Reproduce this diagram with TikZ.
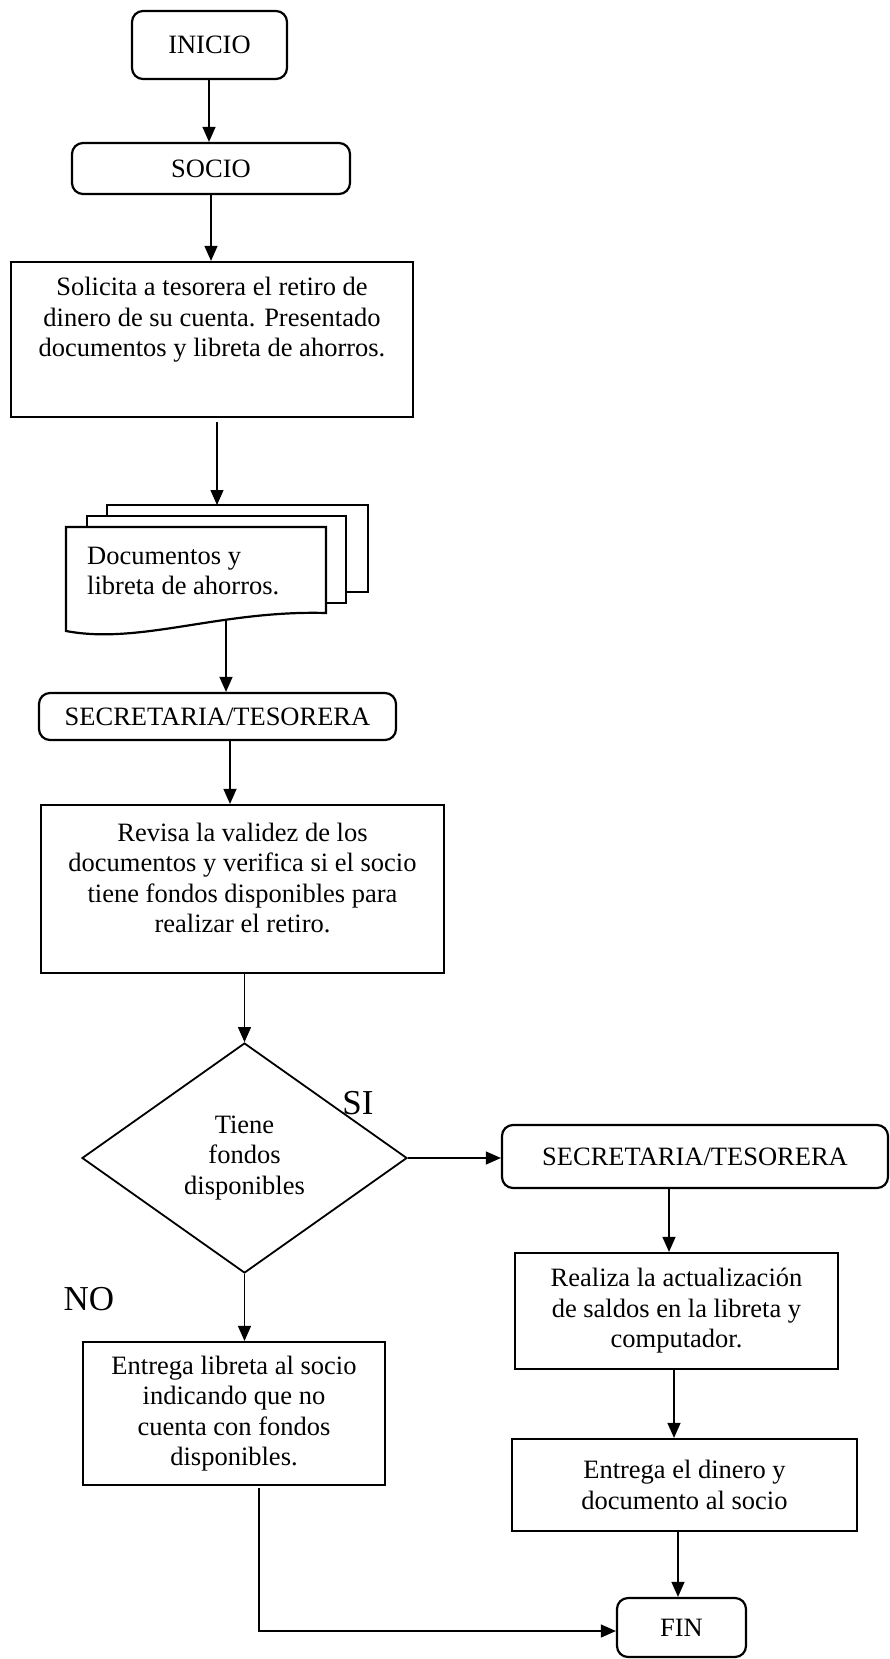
\documentclass[tikz,border=0pt]{standalone}
\usepackage{fontspec}
\setmainfont{Liberation Serif}
\usetikzlibrary{arrows.meta,shapes.geometric}
\begin{document}
\begin{tikzpicture}[x=1pt,y=-1pt,
  every node/.style={font=\fontsize{26.5}{30.5}\selectfont},
  proc/.style={draw,line width=2.2pt,inner sep=0pt,align=center},
  term/.style={draw,line width=2.2pt,rounded corners=11pt,inner sep=0pt,align=center},
  lbl/.style={align=center,inner sep=0pt},
  arr/.style={line width=1.2pt,-{Triangle[length=15pt,width=13pt]}},
  ln/.style={line width=1.2pt},
  page/.style={draw,line width=2.2pt,fill=white,line join=miter},
  big/.style={font=\fontsize{35}{40}\selectfont,inner sep=0pt}]
\useasboundingbox (0,0) rectangle (890,1659);

% main column
\node[term, minimum width=155pt, minimum height=68pt] (inicio) at (209.5,45) {INICIO};
\node[term, minimum width=278pt, minimum height=51pt] (socio) at (211,168.5) {SOCIO};
\node[proc, minimum width=402pt, minimum height=155pt] (sol) at (212,339.5) {};
\node[lbl] (solT) at (212,320) {Solicita a tesorera el retiro de\\dinero de su cuenta. Presentado\\documentos y libreta de ahorros.};

% stacked documents
\draw[page] (107,505) rectangle (368,592);
\draw[page] (87,516) rectangle (346,603);
\draw[page] (66,631) -- (66,527) -- (326,527) -- (326,613)
  .. controls (220,610) and (140,645) .. (66,631) -- cycle;
\node[lbl, align=left, anchor=west] (docT) at (87,571) {Documentos y\\libreta de ahorros.};
\coordinate (doctop) at (217,505);
\coordinate (docbot) at (226,620);

\node[term, minimum width=357pt, minimum height=47pt] (sec1) at (217.5,716.5) {SECRETARIA/TESORERA};
\node[proc, minimum width=403pt, minimum height=168pt] (rev) at (242.5,889) {};
\node[lbl] (revT) at (242.5,878) {Revisa la validez de los\\documentos y verifica si el socio\\tiene fondos disponibles para\\realizar el retiro.};

\node[diamond, draw, line width=1.8pt, minimum width=325pt, minimum height=230pt,
      inner sep=0pt, align=center] (dec) at (244.5,1158) {Tiene\\fondos\\disponibles};
\node[big] (si) at (358,1103) {SI};
\node[big] (no) at (89,1299) {NO};

\node[proc, minimum width=302pt, minimum height=143pt] (lib) at (234,1413.5)
  {Entrega libreta al socio\\indicando que no\\cuenta con fondos\\disponibles.};

% right column
\node[term, minimum width=386pt, minimum height=63pt] (sec2) at (695,1156.5) {SECRETARIA/TESORERA};
\node[proc, minimum width=323pt, minimum height=116pt] (real) at (676.5,1311)
  {Realiza la actualización\\de saldos en la libreta y\\computador.};
\node[proc, minimum width=345pt, minimum height=92pt] (din) at (684.5,1485)
  {Entrega el dinero y\\documento al socio};
\node[term, minimum width=129pt, minimum height=59pt] (fin) at (681.5,1627.5) {FIN};

% connector columns
\coordinate (xa) at (209,0);
\coordinate (xb) at (211,0);
\coordinate (xc) at (230,0);
\coordinate (xd) at (669,0);
\coordinate (xe) at (674,0);
\coordinate (xf) at (678,0);
\coordinate (bend) at (259,1631);

% connectors
\draw[arr] (xa |- inicio.south) -- (xa |- socio.north);
\draw[arr] (xb |- socio.south) -- (xb |- sol.north);
\draw[arr] ([yshift=-4pt]doctop |- sol.south) -- (doctop);
\draw[arr] (docbot) -- (docbot |- sec1.north);
\draw[arr] (xc |- sec1.south) -- (xc |- rev.north);
\draw[arr] (dec.north |- rev.south) -- (dec.north);
\draw[arr] (dec.east) -- (dec.east -| sec2.west);
\draw[arr] (dec.south) -- (dec.south |- lib.north);
\draw[arr] (xd |- sec2.south) -- (xd |- real.north);
\draw[arr] (xe |- real.south) -- (xe |- din.north);
\draw[arr] (xf |- din.south) -- (xf |- fin.north);
\draw[arr] ([yshift=-2pt]bend |- lib.south) -- (bend) -- (bend -| fin.west);
\end{tikzpicture}
\end{document}
